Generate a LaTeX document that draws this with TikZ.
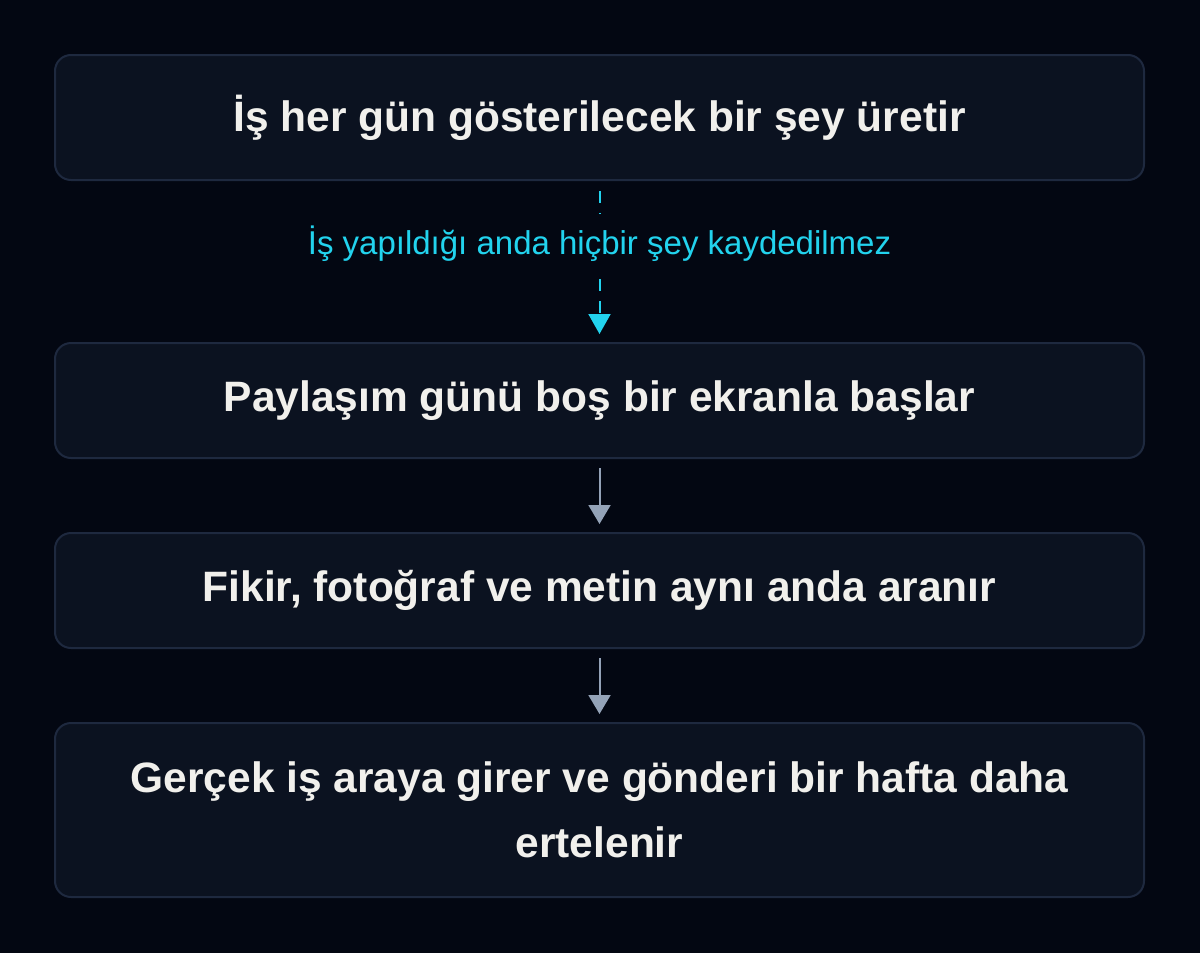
\documentclass[tikz,border=0pt]{standalone}
\usepackage{fontspec}
\setmainfont{Liberation Sans}
\usetikzlibrary{arrows.meta}
\definecolor{bg}{HTML}{030712}
\definecolor{boxfill}{HTML}{0B1220}
\definecolor{boxline}{HTML}{1E293F}
\definecolor{txt}{HTML}{F1F0EC}
\definecolor{cyanc}{HTML}{22D3EE}
\definecolor{greyc}{HTML}{94A3B8}
\tikzset{
  stepbox/.style={draw=boxline, line width=2pt, fill=boxfill, rounded corners=16pt,
    minimum width=1089pt, inner sep=0pt, text=txt, align=center,
    font=\bfseries\fontsize{42.5}{65}\selectfont},
  flowarrow/.style={draw=greyc, line width=2pt, -{Triangle[width=22pt,length=19pt]}},
  dasharrow/.style={draw=cyanc, line width=2pt, dash pattern=on 12pt off 10pt, -{Triangle[width=22pt,length=20pt]}},
  lbl/.style={fill=bg, text=cyanc, inner xsep=4pt, inner ysep=0pt, minimum height=60pt,
    font=\fontsize{33}{38}\selectfont}
}
\begin{document}
\begin{tikzpicture}[x=1pt,y=-1pt]
\fill[bg] (0,0) rectangle (1200,953);
\useasboundingbox (0,0) rectangle (1200,953);
\node[stepbox, minimum height=125pt] (b1) at (599.5,117.5) {İş her gün gösterilecek bir şey üretir};
\node[stepbox, minimum height=115pt] (b2) at (599.5,400.5) {Paylaşım günü boş bir ekranla başlar};
\node[stepbox, minimum height=115pt] (b3) at (599.5,590.5) {Fikir, fotoğraf ve metin aynı anda aranır};
\node[stepbox, minimum height=174pt] (b4) at (599.5,810) {Gerçek iş araya girer ve gönderi bir hafta daha\\ertelenir};
\draw[dasharrow, shorten <=10pt, shorten >=8pt] (b1.south) -- (b2.north);
\node[lbl] (l1) at (599.5,244) {İş yapıldığı anda hiçbir şey kaydedilmez};
\draw[flowarrow, shorten <=9pt, shorten >=8pt] (b2.south) -- (b3.north);
\draw[flowarrow, shorten <=9pt, shorten >=8pt] (b3.south) -- (b4.north);
\end{tikzpicture}
\end{document}
